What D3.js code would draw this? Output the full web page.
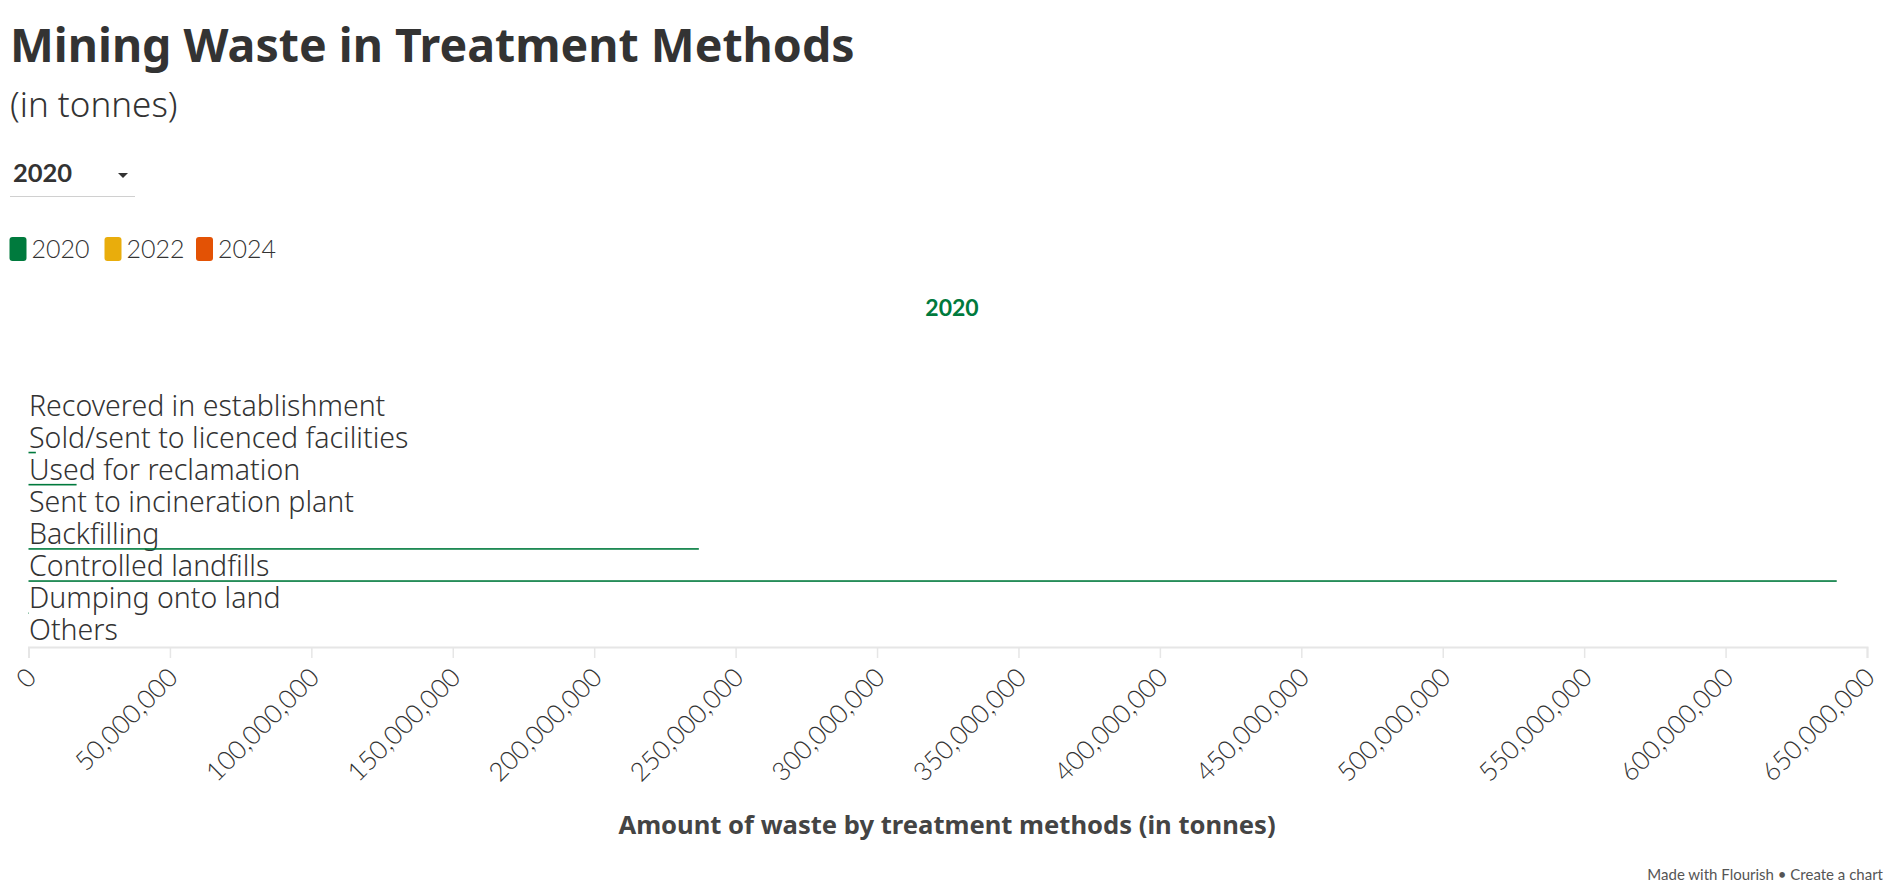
<!DOCTYPE html>
<html>
<head>
<meta charset="utf-8">
<script src="https://cdn.jsdelivr.net/npm/d3@7"></script>
<style>
  html, body { margin: 0; padding: 0; background: #fff; }
  svg { display: block; font-family: "Noto Sans", Lato, sans-serif; }
</style>
</head>
<body>
<div id="chart"></div>
<script>
(function () {
  'use strict';

  var categories = [
    "Recovered in establishment",
    "Sold/sent to licenced facilities",
    "Used for reclamation",
    "Sent to incineration plant",
    "Backfilling",
    "Controlled landfills",
    "Dumping onto land",
    "Others"
  ];
  var values2020 = [0, 2600000, 17000000, 0, 237000000, 639300000, 150000, 0];
  var legendYears = ["2020", "2022", "2024"];
  var legendColors = ["#007a3d", "#e9ad0c", "#e35205"];
  var xTicks = [0, 50e6, 100e6, 150e6, 200e6, 250e6, 300e6, 350e6, 400e6, 450e6, 500e6, 550e6, 600e6, 650e6];

  var w = 1890;
  var h = 890;
  var svg = d3.select("#chart").append("svg").attr("width", w).attr("height", h);

  // header
  svg.append("text").attr("x", 10).attr("y", 62)
    .style("font-size", "46.5px").style("font-weight", 700).style("fill", "#333")
    .text("Mining Waste in Treatment Methods");
  svg.append("text").attr("x", 10).attr("y", 117)
    .style("font-size", "35px").style("font-weight", 300).style("fill", "#333")
    .text("(in tonnes)");

  // dropdown
  svg.append("text").attr("x", 13).attr("y", 182)
    .style("font-family", "Lato, sans-serif")
    .style("font-size", "25.5px").style("font-weight", 700).style("fill", "#333")
    .text("2020");
  svg.append("path").attr("d", "M118,173 L128,173 L123,178 Z").style("fill", "#333");
  svg.append("line").attr("x1", 10).attr("x2", 135).attr("y1", 196.5).attr("y2", 196.5)
    .style("stroke", "#d0d0d0").style("stroke-width", 1.2);

  // legend
  var legX = [9.5, 104.5, 196];
  var leg = svg.selectAll(".leg").data(legendYears).enter().append("g")
    .attr("class", "leg")
    .attr("transform", function (d, i) { return "translate(" + legX[i] + ",237)"; });
  leg.append("rect").attr("width", 17).attr("height", 24).attr("rx", 3)
    .style("fill", function (d, i) { return legendColors[i]; });
  leg.append("text").attr("x", 22).attr("y", 21)
    .style("font-family", "Lato, sans-serif")
    .style("font-size", "25px").style("font-weight", 300).style("fill", "#333")
    .text(function (d) { return d; });

  // facet title
  svg.append("text").attr("x", 952).attr("y", 316).attr("text-anchor", "middle")
    .style("font-family", "Lato, sans-serif")
    .style("font-size", "23px").style("font-weight", 700).style("fill", "#007a3d")
    .text("2020");

  var x = d3.scaleLinear().domain([0, 650e6]).range([28.5, 1867]);
  var y = d3.scaleBand().domain(categories).range([389.5, 646.5]).padding(0);
  var step = y.step();

  // axis
  var axis = d3.axisBottom(x).tickValues(xTicks).tickSize(11).tickFormat(d3.format(","));
  var ax = svg.append("g").attr("transform", "translate(0,647)").call(axis);
  ax.select(".domain").style("stroke", "#e6e6e6").style("stroke-width", 2);
  ax.selectAll(".tick line").style("stroke", "#e6e6e6").style("stroke-width", 1.5);
  ax.selectAll(".tick text")
    .attr("x", 0).attr("y", 0).attr("dy", 0)
    .attr("text-anchor", "end")
    .attr("transform", "translate(9,32) rotate(-45)")
    .style("font-family", "Lato, sans-serif")
    .style("font-size", "26px").style("font-weight", 300).style("fill", "#333");

  // rows
  var rows = svg.selectAll(".row").data(categories).enter().append("g").attr("class", "row");
  rows.append("text")
    .attr("x", 29)
    .attr("y", function (d) { return y(d) + 26; })
    .style("font-size", "28.5px").style("font-weight", 300).style("fill", "#333")
    .text(function (d) { return d; });
  rows.append("rect")
    .attr("x", x(0))
    .attr("y", function (d) { return y(d) + step - 2; })
    .attr("height", 1.6)
    .attr("width", function (d, i) { return x(values2020[i]) - x(0); })
    .style("fill", "#007a3d");

  // axis title
  svg.append("text").attr("x", 947).attr("y", 834).attr("text-anchor", "middle")
    .style("font-size", "25.6px").style("font-weight", 700).style("fill", "#444")
    .text("Amount of waste by treatment methods (in tonnes)");

  // footer
  svg.append("text").attr("x", 1883).attr("y", 880).attr("text-anchor", "end")
    .style("font-family", "Lato, sans-serif")
    .style("font-size", "15px").style("fill", "#555")
    .text("Made with Flourish \u2022 Create a chart");
})();
</script>
</body>
</html>
